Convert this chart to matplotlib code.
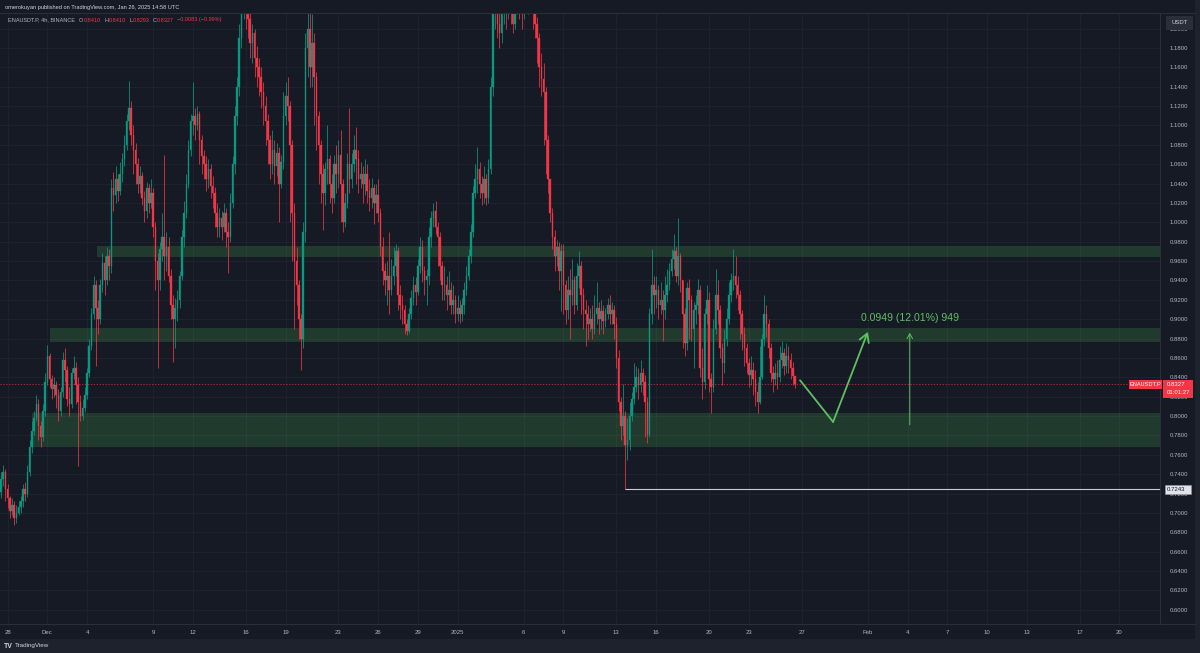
import numpy as np
import pandas as pd
import matplotlib
matplotlib.use('Agg')
import matplotlib.pyplot as plt
from matplotlib.patches import Rectangle

plt.rcParams['font.family'] = ['Liberation Sans', 'DejaVu Sans']

# ENAUSDT.P 4h candles, first one opens 2024-11-27 12:00 UTC (open = previous close)
first_open = 0.722
closes = [
    0.735, 0.742, 0.725,
    0.715, 0.702, 0.708, 0.695, 0.700, 0.706,
    0.712, 0.725, 0.720, 0.742, 0.768, 0.785,
    0.798, 0.812, 0.790, 0.778, 0.805, 0.835,
    0.862, 0.838, 0.828, 0.832, 0.822, 0.805,
    0.825, 0.858, 0.848, 0.818, 0.812, 0.845,
    0.850, 0.832, 0.815, 0.800, 0.808, 0.822,
    0.845, 0.872, 0.905, 0.935, 0.912, 0.900,
    0.935, 0.958, 0.940, 0.965, 0.955, 1.035,
    1.028, 1.045, 1.032, 1.050, 1.065, 1.080,
    1.105, 1.118, 1.090, 1.075, 1.060, 1.040,
    1.048, 1.025, 1.012, 1.035, 1.020, 1.030,
    0.995, 0.960, 0.940, 0.972, 0.985, 0.965,
    0.975, 0.945, 0.915, 0.900, 0.912, 0.920,
    0.945, 0.985, 1.010, 1.040, 1.075, 1.105,
    1.110, 1.100, 1.112, 1.085, 1.068, 1.060,
    1.045, 1.055, 1.038, 1.030, 1.010, 0.995,
    1.005, 0.995, 1.010, 0.990, 0.985, 1.020,
    1.060, 1.110, 1.140, 1.190, 1.225, 1.240,
    1.235, 1.210, 1.185, 1.195, 1.170, 1.160,
    1.150, 1.135, 1.120, 1.105, 1.085, 1.060,
    1.075, 1.058, 1.072, 1.040, 1.062, 1.110,
    1.130, 1.120, 1.080, 1.010, 0.960, 0.935,
    0.900, 0.880, 0.990, 1.180, 1.200, 1.160,
    1.185, 1.150, 1.110, 1.080, 1.050, 1.030,
    1.055, 1.065, 1.040, 1.025, 1.060, 1.050,
    1.070, 1.040, 1.000, 1.020, 1.060, 1.045,
    1.060, 1.075, 1.065, 1.045, 1.050, 1.040,
    1.050, 1.032, 1.025, 1.035, 1.020, 1.028,
    1.010, 0.975, 0.950, 0.940, 0.945, 0.930,
    0.945, 0.955, 0.970, 0.925, 0.915, 0.910,
    0.895, 0.888, 0.905, 0.922, 0.935, 0.928,
    0.955, 0.975, 0.950, 0.940, 0.945, 0.985,
    1.005, 1.012, 0.995, 0.985, 0.955, 0.935,
    0.935, 0.925, 0.930, 0.915, 0.920, 0.905,
    0.912, 0.905, 0.915, 0.930, 0.945, 0.965,
    0.990, 1.030, 1.045, 1.055, 1.040, 1.030,
    1.045, 1.025, 1.055, 1.140, 1.225, 1.235,
    1.205, 1.195, 1.215, 1.230, 1.220, 1.235,
    1.225, 1.205, 1.220, 1.240, 1.225, 1.215,
    1.235, 1.245, 1.230, 1.250, 1.220, 1.205,
    1.190, 1.160, 1.148, 1.135, 1.085, 1.045,
    1.010, 0.985, 0.965, 0.975, 0.950, 0.970,
    0.935, 0.910, 0.930, 0.925, 0.940, 0.915,
    0.945, 0.955, 0.925, 0.910, 0.905, 0.895,
    0.900, 0.890, 0.905, 0.912, 0.900, 0.908,
    0.898, 0.905, 0.915, 0.905, 0.910, 0.895,
    0.860, 0.815, 0.790, 0.800, 0.770, 0.775,
    0.800, 0.818, 0.830, 0.840, 0.832, 0.845,
    0.835, 0.815, 0.780, 0.905, 0.935, 0.925,
    0.930, 0.915, 0.920, 0.910, 0.925, 0.935,
    0.950, 0.962, 0.970, 0.945, 0.965, 0.940,
    0.905, 0.875, 0.932, 0.920, 0.890, 0.910,
    0.915, 0.930, 0.850, 0.835, 0.905, 0.920,
    0.838, 0.830, 0.890, 0.925, 0.910, 0.870,
    0.855, 0.880, 0.900, 0.925, 0.940, 0.945,
    0.935, 0.925, 0.905, 0.885, 0.870, 0.855,
    0.842, 0.848, 0.838, 0.825, 0.815, 0.840,
    0.880, 0.905, 0.895, 0.870, 0.845, 0.838,
    0.845, 0.840, 0.858, 0.865, 0.852, 0.862,
    0.858, 0.850, 0.841, 0.8327,
]
highs = [
    0.742, 0.750, 0.745,
    0.730, 0.718, 0.715, 0.712, 0.708, 0.712,
    0.718, 0.730, 0.732, 0.750, 0.775, 0.795,
    0.805, 0.822, 0.818, 0.795, 0.812, 0.845,
    0.873, 0.865, 0.842, 0.840, 0.836, 0.828,
    0.830, 0.866, 0.870, 0.852, 0.830, 0.850,
    0.862, 0.856, 0.840, 0.822, 0.818, 0.830,
    0.850, 0.880, 0.912, 0.945, 0.940, 0.920,
    0.942, 0.968, 0.965, 0.975, 0.972, 1.045,
    1.052, 1.058, 1.050, 1.062, 1.072, 1.090,
    1.112, 1.146, 1.125, 1.100, 1.082, 1.066,
    1.058, 1.052, 1.032, 1.042, 1.040, 1.045,
    1.035, 1.000, 0.968, 0.980, 1.010, 1.070,
    0.990, 0.985, 0.952, 0.925, 0.922, 0.930,
    0.950, 0.992, 1.022, 1.050, 1.085, 1.112,
    1.145, 1.118, 1.120, 1.115, 1.090, 1.075,
    1.068, 1.065, 1.060, 1.048, 1.036, 1.020,
    1.015, 1.012, 1.020, 1.015, 1.000, 1.030,
    1.068, 1.120, 1.150, 1.205, 1.250, 1.270,
    1.275, 1.250, 1.225, 1.205, 1.200, 1.182,
    1.170, 1.160, 1.145, 1.130, 1.112, 1.090,
    1.095, 1.085, 1.082, 1.078, 1.070, 1.135,
    1.145, 1.150, 1.125, 1.085, 1.020, 0.975,
    0.940, 0.905, 1.000, 1.195, 1.218, 1.225,
    1.215, 1.195, 1.155, 1.115, 1.085, 1.060,
    1.062, 1.100, 1.070, 1.050, 1.070, 1.080,
    1.085, 1.095, 1.045, 1.030, 1.072, 1.118,
    1.072, 1.090, 1.098, 1.075, 1.062, 1.058,
    1.065, 1.060, 1.045, 1.046, 1.040, 1.040,
    1.045, 1.015, 0.985, 0.958, 0.960, 0.990,
    0.962, 0.975, 0.978, 0.975, 0.935, 0.925,
    0.915, 0.900, 0.912, 0.930, 0.945, 0.944,
    0.962, 0.985, 0.982, 0.955, 0.952, 0.995,
    1.012, 1.020, 1.022, 1.000, 0.990, 0.960,
    0.955, 0.945, 0.950, 0.938, 0.935, 0.925,
    0.925, 0.920, 0.922, 0.938, 0.955, 0.972,
    0.998, 1.038, 1.060, 1.078, 1.062, 1.048,
    1.058, 1.050, 1.065, 1.150, 1.240, 1.260,
    1.245, 1.225, 1.235, 1.250, 1.245, 1.255,
    1.255, 1.240, 1.235, 1.260, 1.255, 1.240,
    1.260, 1.270, 1.255, 1.275, 1.258, 1.235,
    1.212, 1.195, 1.175, 1.165, 1.140, 1.090,
    1.045, 1.015, 0.992, 0.982, 0.980, 0.978,
    0.978, 0.940, 0.945, 0.952, 0.962, 0.945,
    0.958, 0.970, 0.960, 0.932, 0.920, 0.915,
    0.912, 0.915, 0.925, 0.938, 0.918, 0.920,
    0.915, 0.912, 0.922, 0.925, 0.918, 0.915,
    0.902, 0.868, 0.820, 0.833, 0.805, 0.798,
    0.815, 0.825, 0.855, 0.852, 0.850, 0.858,
    0.850, 0.842, 0.820, 0.912, 0.972, 0.945,
    0.945, 0.935, 0.938, 0.930, 0.945, 0.952,
    0.958, 0.972, 0.988, 0.975, 1.004, 0.968,
    0.940, 0.912, 0.938, 0.942, 0.925, 0.918,
    0.925, 0.942, 0.935, 0.870, 0.912, 0.935,
    0.928, 0.845, 0.900, 0.952, 0.940, 0.915,
    0.875, 0.890, 0.912, 0.938, 0.948, 0.972,
    0.965, 0.945, 0.930, 0.910, 0.892, 0.875,
    0.860, 0.862, 0.856, 0.848, 0.835, 0.872,
    0.885, 0.925, 0.915, 0.900, 0.875, 0.852,
    0.855, 0.858, 0.872, 0.878, 0.870, 0.875,
    0.872, 0.865, 0.856, 0.8410,
]
lows = [
    0.715, 0.728, 0.712,
    0.705, 0.695, 0.698, 0.688, 0.690, 0.698,
    0.700, 0.706, 0.712, 0.716, 0.738, 0.762,
    0.780, 0.795, 0.775, 0.768, 0.774, 0.800,
    0.832, 0.830, 0.818, 0.820, 0.808, 0.795,
    0.800, 0.820, 0.835, 0.810, 0.800, 0.808,
    0.838, 0.812, 0.748, 0.795, 0.796, 0.804,
    0.818, 0.840, 0.868, 0.900, 0.852, 0.885,
    0.895, 0.928, 0.925, 0.935, 0.940, 0.948,
    1.012, 1.020, 1.022, 1.028, 1.042, 1.058,
    1.075, 1.095, 1.080, 1.050, 1.040, 1.030,
    1.030, 1.018, 1.000, 1.005, 1.010, 1.015,
    0.985, 0.930, 0.850, 0.930, 0.960, 0.940,
    0.950, 0.938, 0.900, 0.856, 0.870, 0.898,
    0.912, 0.940, 0.975, 1.005, 1.035, 1.068,
    1.090, 1.085, 1.095, 1.060, 1.050, 1.045,
    1.032, 1.035, 1.025, 1.015, 0.995, 0.985,
    0.985, 0.982, 0.990, 0.975, 0.948, 0.980,
    1.015, 1.050, 1.100, 1.130, 1.180, 1.210,
    1.200, 1.190, 1.170, 1.165, 1.150, 1.140,
    1.130, 1.118, 1.100, 1.080, 1.060, 1.045,
    1.050, 1.040, 1.048, 1.000, 1.035, 1.055,
    1.100, 1.105, 1.000, 0.960, 0.890, 0.915,
    0.880, 0.848, 0.870, 0.980, 1.150, 1.140,
    1.140, 1.100, 1.075, 1.040, 1.020, 0.992,
    1.018, 1.040, 1.020, 1.010, 1.020, 1.030,
    1.035, 1.000, 0.990, 0.995, 1.015, 1.030,
    1.035, 1.052, 1.040, 1.030, 1.035, 1.020,
    1.028, 1.020, 1.012, 1.015, 0.998, 1.010,
    1.000, 0.965, 0.935, 0.925, 0.915, 0.905,
    0.925, 0.935, 0.945, 0.910, 0.900, 0.895,
    0.885, 0.884, 0.886, 0.900, 0.915, 0.915,
    0.925, 0.948, 0.938, 0.925, 0.915, 0.935,
    0.975, 0.995, 0.988, 0.955, 0.940, 0.920,
    0.920, 0.910, 0.915, 0.905, 0.905, 0.896,
    0.898, 0.896, 0.898, 0.905, 0.925, 0.940,
    0.958, 0.985, 1.025, 1.030, 1.025, 1.018,
    1.020, 1.018, 1.020, 1.050, 1.130, 1.200,
    1.190, 1.180, 1.185, 1.205, 1.200, 1.210,
    1.205, 1.195, 1.200, 1.215, 1.210, 1.200,
    1.210, 1.225, 1.215, 1.225, 1.200, 1.190,
    1.165, 1.140, 1.130, 1.080, 1.050, 1.030,
    1.000, 0.972, 0.950, 0.955, 0.930, 0.908,
    0.905, 0.895, 0.900, 0.880, 0.915, 0.905,
    0.910, 0.932, 0.905, 0.890, 0.872, 0.880,
    0.888, 0.880, 0.885, 0.895, 0.885, 0.890,
    0.885, 0.892, 0.900, 0.895, 0.895, 0.880,
    0.850, 0.805, 0.775, 0.780, 0.7243, 0.755,
    0.765, 0.795, 0.812, 0.825, 0.818, 0.825,
    0.822, 0.778, 0.772, 0.778, 0.895, 0.905,
    0.912, 0.900, 0.905, 0.878, 0.900, 0.918,
    0.930, 0.945, 0.952, 0.938, 0.935, 0.928,
    0.870, 0.862, 0.868, 0.880, 0.878, 0.850,
    0.895, 0.905, 0.840, 0.818, 0.828, 0.895,
    0.825, 0.803, 0.825, 0.885, 0.895, 0.860,
    0.832, 0.845, 0.872, 0.895, 0.918, 0.930,
    0.922, 0.910, 0.880, 0.868, 0.852, 0.845,
    0.830, 0.832, 0.822, 0.810, 0.803, 0.812,
    0.838, 0.872, 0.882, 0.860, 0.835, 0.825,
    0.832, 0.828, 0.835, 0.850, 0.842, 0.845,
    0.845, 0.838, 0.832, 0.8293,
]

# support / resistance boxes
zone_start = ['2024-12-04 18:00', '2024-12-01 05:00', '2024-11-29 20:00']
zone_low = [0.9643, 0.8765, 0.7681]
zone_high = [0.9756, 0.8910, 0.8032]

swing_low = 0.7243
swing_low_time = '2025-01-13 16:00'
last_price = 0.8327

# projected path drawn on the chart
path_time = ['2025-01-26 21:00', '2025-01-29 09:00', '2025-02-01 00:00']
path_price = [0.837, 0.794, 0.887]
measure_time = '2025-02-04 04:00'
measure_from = 0.791
measure_to = 0.886

tick_dates = ['2024-11-28', '2024-12-01', '2024-12-04', '2024-12-09', '2024-12-12',
              '2024-12-16', '2024-12-19', '2024-12-23', '2024-12-26', '2024-12-29',
              '2025-01-01', '2025-01-06', '2025-01-09', '2025-01-13', '2025-01-16',
              '2025-01-20', '2025-01-23', '2025-01-27', '2025-02-01', '2025-02-04',
              '2025-02-07', '2025-02-10', '2025-02-13', '2025-02-17', '2025-02-20']
tick_labels = ['28', 'Dec', '4', '9', '12', '16', '19', '23', '26', '29', '2025', '6', '9',
               '13', '16', '20', '23', '27', 'Feb', '4', '7', '10', '13', '17', '20']
price_ticks = np.round(np.arange(0.60, 1.2001, 0.02), 2)

BG = '#161a25'
OUT_BG = '#1e222d'
GRID = '#1f2330'
UP = '#089981'
DOWN = '#f23645'
TXT = '#b2b5be'
ARROW = '#5fbf63'

ref = pd.Timestamp('2024-12-04')


def days(t):
    return (pd.Timestamp(t) - ref) / pd.Timedelta(days=1)


W, H = 1200, 653
fig = plt.figure(figsize=(W / 100, H / 100), dpi=100, facecolor=OUT_BG)
fig.add_artist(Rectangle((0, 14 / H), 1195 / W, 1 - 14 / H, transform=fig.transFigure,
                         facecolor=BG, edgecolor='none', zorder=-5))

ax = fig.add_axes([0, (H - 624) / H, 1160 / W, (624 - 13) / H])
ax.set_facecolor(BG)
px_per_day = 13.235
ax.set_xlim(-87 / px_per_day, (1160 - 87) / px_per_day)
ax.set_ylim(0.5854, 1.2161)

# grid
ax.set_yticks(price_ticks)
ax.set_yticklabels([f'{p:.4f}' for p in price_ticks])
ax.set_xticks([days(d) for d in tick_dates])
ax.set_xticklabels(tick_labels)
ax.grid(True, color=GRID, lw=0.7)
ax.set_axisbelow(True)
ax.yaxis.tick_right()
ax.tick_params(axis='y', length=0, pad=7, labelsize=4.3, labelcolor=TXT)
ax.tick_params(axis='x', length=0, pad=4, labelsize=4.3, labelcolor=TXT)
for lbl in ax.get_yticklabels():
    lbl.set_horizontalalignment('left')
for s in ['top', 'left']:
    ax.spines[s].set_visible(False)
for s in ['right', 'bottom']:
    ax.spines[s].set_color('#2a2e39')
    ax.spines[s].set_linewidth(0.8)

# zones
for st, lo, hi in zip(zone_start, zone_low, zone_high):
    x0 = days(st)
    ax.add_patch(Rectangle((x0, lo), ax.get_xlim()[1] - x0, hi - lo,
                           facecolor='#4caf50', alpha=0.22, edgecolor='none', zorder=1))

# candles
closes = np.array(closes)
highs = np.array(highs)
lows = np.array(lows)
assert len(closes) == len(highs) == len(lows)
opens = np.concatenate([[first_open], closes[:-1]])
highs = np.maximum(highs, np.maximum(opens, closes))
lows = np.minimum(lows, np.minimum(opens, closes))
times = pd.date_range('2024-11-27 12:00', periods=len(closes), freq='4h')
x = np.array([(t - ref) / pd.Timedelta(days=1) for t in times])
cols = np.where(closes >= opens, UP, DOWN)
ax.vlines(x, lows, highs, colors=cols, lw=0.55, zorder=3)
ax.bar(x, np.abs(closes - opens), bottom=np.minimum(opens, closes), width=0.115,
       color=cols, edgecolor=cols, linewidth=0.25, zorder=4)

# last price dotted line
ax.axhline(last_price, color=DOWN, lw=0.6, ls=(0, (1.5, 2)), alpha=0.8, zorder=2)

# swing low horizontal
ax.hlines(swing_low, days(swing_low_time), ax.get_xlim()[1], color='#c9ccd3', lw=0.8, zorder=5)

# projected path
px = [days(t) for t in path_time]
ax.plot(px[:2], path_price[:2], color=ARROW, lw=1.3, zorder=6, solid_capstyle='round')
ax.annotate('', xy=(px[2], path_price[2]), xytext=(px[1], path_price[1]),
            arrowprops=dict(arrowstyle='->,head_length=0.6,head_width=0.35',
                            color=ARROW, lw=1.3, shrinkA=0, shrinkB=0), zorder=6)
mx = days(measure_time)
ax.annotate('', xy=(mx, measure_to), xytext=(mx, measure_from),
            arrowprops=dict(arrowstyle='->,head_length=0.35,head_width=0.2',
                            color=ARROW, lw=0.7, shrinkA=0, shrinkB=0), zorder=6)
ax.text(mx, 0.9013, '0.0949 (12.01%) 949', color=ARROW, fontsize=7.6,
        ha='center', va='center', zorder=7)

# overlay in pixel coords for the TradingView chrome
ov = fig.add_axes([0, 0, 1, 1], zorder=10)
ov.set_xlim(0, W)
ov.set_ylim(H, 0)
ov.axis('off')
ov.patch.set_alpha(0)


def py(p):
    return H - ax.transData.transform((0, p))[1]


ov.plot([0, 1195], [13, 13], color='#2a2e39', lw=0.8)
ov.plot([1160, 1195], [624, 624], color='#2a2e39', lw=0.8)

ov.text(5, 7, 'omerokuyan published on TradingView.com, Jan 26, 2025 14:58 UTC',
        color='#d1d4dc', fontsize=4.1, va='center', ha='left')

# legend line, placed piece by piece
renderer = fig.canvas.get_renderer()
parts = [('ENAUSDT.P, 4h, BINANCE', TXT, 4), ('O', TXT, 0.6), ('0.8410', DOWN, 3),
         ('H', TXT, 0.6), ('0.8410', DOWN, 3), ('L', TXT, 0.6), ('0.8293', DOWN, 3),
         ('C', TXT, 0.6), ('0.8327', DOWN, 3), ('\u22120.0083 (\u22120.99%)', DOWN, 0)]
xx = 8
for s, c, gap in parts:
    t = ov.text(xx, 20, s, color=c, fontsize=4.0, va='center', ha='left')
    xx += t.get_window_extent(renderer=renderer).width + gap

# USDT box
ov.add_patch(Rectangle((1166, 15.5), 27, 14, facecolor='#2a2e39', edgecolor='none'))
ov.text(1179.5, 22, 'USDT', color='#d1d4dc', fontsize=4.3, ha='center', va='center')

# last price labels
yl = py(last_price)
ov.add_patch(Rectangle((1129, yl - 4.5), 33, 9, facecolor=DOWN, edgecolor='none'))
ov.text(1145.5, yl, 'ENAUSDT.P', color='white', fontsize=4.1, ha='center', va='center')
ov.add_patch(Rectangle((1163, yl - 4.5), 30, 18, facecolor=DOWN, edgecolor='none'))
ov.text(1167, yl, f'{last_price:.4f}', color='white', fontsize=4.3, va='center')
ov.text(1167, yl + 8.5, '01:01:27', color='white', fontsize=4.3, va='center')

# swing low label
ys = py(swing_low)
ov.add_patch(Rectangle((1165, ys - 4.5), 26, 9, facecolor='#e0e3eb', edgecolor='#9598a1', lw=0.4))
ov.text(1167, ys, f'{swing_low:.4f}', color='#131722', fontsize=4.3, va='center')

# footer logo
ov.text(4, 646, 'TV', color='#d1d4dc', fontsize=5, fontweight='bold', va='center')
ov.text(15, 646, 'TradingView', color='#d1d4dc', fontsize=4.5, va='center')

fig.savefig('out.png', dpi=100, facecolor=fig.get_facecolor())
